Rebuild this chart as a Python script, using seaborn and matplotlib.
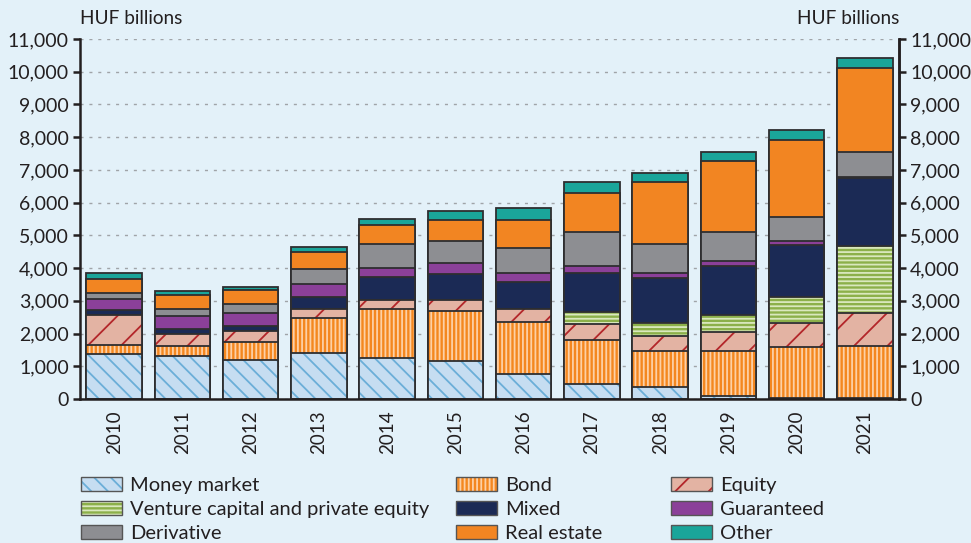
import numpy as np
import pandas as pd
import matplotlib
matplotlib.use("Agg")
import matplotlib.pyplot as plt
import seaborn as sns
from matplotlib.patches import Patch
from matplotlib.ticker import FixedLocator, FuncFormatter

# ---------------- data (HUF billions) ----------------
years = ["2010", "2011", "2012", "2013", "2014", "2015",
         "2016", "2017", "2018", "2019", "2020", "2021"]
money_market = [1360, 1320, 1190, 1410, 1240, 1150, 760, 450, 375, 80, 30, 20]
bond         = [305, 295, 565, 1080, 1495, 1540, 1585, 1350, 1080, 1380, 1565, 1595]
equity       = [895, 385, 335, 245, 305, 345, 390, 480, 465, 590, 720, 1005]
venture_pe   = [0, 0, 0, 0, 0, 0, 0, 365, 415, 510, 815, 2040]
mixed        = [150, 135, 130, 385, 690, 770, 830, 1205, 1350, 1515, 1585, 2095]
guaranteed   = [355, 395, 415, 385, 285, 345, 295, 215, 160, 130, 100, 40]
derivative   = [185, 205, 275, 480, 730, 690, 760, 1035, 895, 905, 760, 760]
real_estate  = [425, 435, 430, 505, 580, 640, 860, 1200, 1900, 2170, 2350, 2550]
other        = [185, 130, 90, 150, 160, 255, 345, 345, 265, 275, 305, 325]

series_names = ["Money market", "Bond", "Equity", "Venture capital and private equity",
                "Mixed", "Guaranteed", "Derivative", "Real estate", "Other"]
series_values = [money_market, bond, equity, venture_pe, mixed,
                 guaranteed, derivative, real_estate, other]
y_ticks = list(range(0, 11001, 1000))

# ---------------- styles ----------------
faces   = ["#C6DDF1", "#F4871F", "#E3B3A3", "#8CB04A", "#1B2A55",
           "#8B4099", "#8D8E92", "#F28522", "#1AA59A"]
hatches = ["\\\\", "||||", "/", "----", None, None, None, None, None]
hcolors = ["#6BAED8", "#FDD0A6", "#B3262A", "#DAE8BE", None, None, None, None, None]
BG = "#E3F1F9"
TXT = "#231F20"
EDGE = "#2E2E30"

sns.set_theme(style="white")
plt.rcParams["font.family"] = ["Lato", "DejaVu Sans"]
plt.rcParams["hatch.linewidth"] = 1.3

fig = plt.figure(figsize=(9.71, 5.43), dpi=100, facecolor=BG)
ax = fig.add_axes([80 / 971, 1 - 399 / 543, 819 / 971, 360 / 543])
ax.set_facecolor(BG)

df = pd.DataFrame({"year": years})
cum = np.zeros(len(years))
cums = []
for vals in series_values:
    cum = cum + np.array(vals, dtype=float)
    cums.append(cum.copy())

W = 0.81
for k in reversed(range(len(series_names))):
    d = df.assign(total=cums[k])
    if hatches[k]:
        sns.barplot(data=d, x="year", y="total", order=years, color=faces[k],
                    saturation=1, width=W, errorbar=None, ax=ax,
                    edgecolor=hcolors[k], linewidth=0, hatch=hatches[k])
    else:
        sns.barplot(data=d, x="year", y="total", order=years, color=faces[k],
                    saturation=1, width=W, errorbar=None, ax=ax,
                    edgecolor=faces[k], linewidth=0)
    sns.barplot(data=d, x="year", y="total", order=years, color=EDGE,
                fill=False, width=W, errorbar=None, ax=ax, linewidth=1.3)

# ---------------- axes ----------------
ax.set_xlim(-0.5, len(years) - 0.5)
ax.set_ylim(0, 11000)
ax.set_xlabel("")
ax.set_ylabel("")
fmt = FuncFormatter(lambda v, p: f"{int(v):,}")
ax.yaxis.set_major_locator(FixedLocator(y_ticks))
ax.yaxis.set_major_formatter(fmt)
ax.set_axisbelow(True)
ax.yaxis.grid(True, color="#A0A4A8", linestyle=(0, (2.2, 4.2)), linewidth=1.0)
ax.xaxis.grid(False)

ax.set_xticks(range(len(years)))
ax.set_xticklabels(years, rotation=90)
ax.set_xticks(np.arange(-0.5, len(years), 1.0), minor=True)
ax.tick_params(axis="x", which="major", length=0, pad=8, labelsize=13.5, labelcolor=TXT)
ax.tick_params(axis="x", which="minor", length=6, width=1.8, color=TXT, direction="out")
ax.tick_params(axis="y", which="major", length=5, width=1.8, color=TXT, direction="out",
               labelsize=14, labelcolor=TXT, pad=3, left=True)

ax.spines["top"].set_visible(False)
for s in ["left", "bottom", "right"]:
    ax.spines[s].set_color(TXT)
    ax.spines[s].set_linewidth(1.8)

ax2 = ax.twinx()
ax2.set_ylim(0, 11000)
ax2.yaxis.set_major_locator(FixedLocator(y_ticks))
ax2.yaxis.set_major_formatter(fmt)
ax2.tick_params(axis="y", which="major", length=5, width=1.8, color=TXT, direction="out",
                labelsize=14, labelcolor=TXT, pad=3, right=True)
ax2.grid(False)
for s in ["top", "left", "bottom"]:
    ax2.spines[s].set_visible(False)
ax2.spines["right"].set_color(TXT)
ax2.spines["right"].set_linewidth(1.8)

fig.text(80 / 971, 1 - 19 / 543, "HUF billions", ha="left", va="center",
         fontsize=13.7, color=TXT)
fig.text(899 / 971, 1 - 19 / 543, "HUF billions", ha="right", va="center",
         fontsize=13.7, color=TXT)

# ---------------- legend (three columns) ----------------
def handle(k):
    if hatches[k]:
        p1 = Patch(facecolor=faces[k], edgecolor=hcolors[k], hatch=hatches[k], linewidth=0)
    else:
        p1 = Patch(facecolor=faces[k], edgecolor=faces[k], linewidth=0)
    p2 = Patch(facecolor="none", edgecolor="#555555", linewidth=1.0)
    return (p1, p2)

columns = [[0, 3, 6], [1, 4, 7], [2, 5, 8]]
col_x = [81, 456, 671]
for cx, idxs in zip(col_x, columns):
    fig.legend([handle(k) for k in idxs], [series_names[k] for k in idxs],
               loc="upper left", bbox_to_anchor=(cx / 971, 1 - 477 / 543),
               frameon=False, fontsize=14.5, labelcolor=TXT,
               handlelength=2.05, handleheight=0.68, handletextpad=0.4,
               labelspacing=0.34, borderpad=0, borderaxespad=0)

fig.savefig("out.png", dpi=100, facecolor=BG)
